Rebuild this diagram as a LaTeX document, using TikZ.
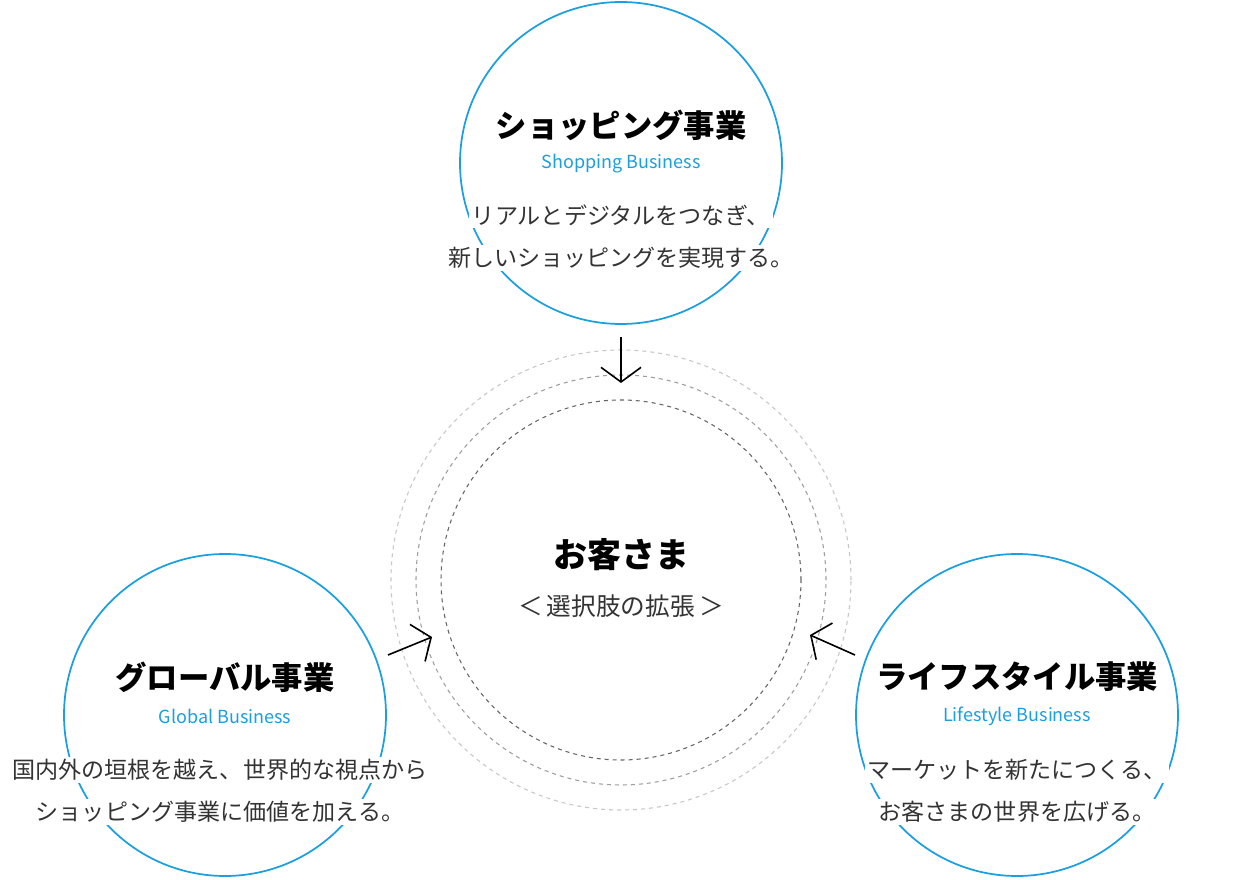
\documentclass[tikz,border=0pt]{standalone}
\usepackage{fontspec}
\setmainfont{Noto Sans CJK JP}
\usetikzlibrary{arrows.meta}
\definecolor{sky}{HTML}{1A9FE0}
\definecolor{txt}{HTML}{333333}
\begin{document}
\begin{tikzpicture}[x=0.75pt,y=-0.75pt,
  bizc/.style={draw=sky,line width=1.3pt},
  head/.style={font=\fontsize{23.5}{26}\selectfont\bfseries,text=black},
  eng/.style={font=\fontsize{13.5}{15}\selectfont,text=sky},
  body/.style={font=\fontsize{17.3}{20}\selectfont,text=txt,fill=white,inner sep=2pt},
  arr/.style={line width=1.2pt,-{Straight Barb[length=11pt,width=30pt,line width=1.2pt]}}]
\useasboundingbox (0,0) rectangle (1240,880);
\fill[white] (0,0) rectangle (1240,880);
% dashed circles
\node (d1) [circle,draw=black!22,dashed,line width=0.8pt,minimum size=460*0.75pt] at (621,580) {};
\node (d2) [circle,draw=black!38,dashed,line width=0.8pt,minimum size=410*0.75pt] at (621,580) {};
\node (d3) [circle,draw=black!60,dashed,line width=0.8pt,minimum size=360*0.75pt] at (621,580) {};
% business circles
\node (ct) [circle,bizc,minimum size=322*0.75pt] at (621,163) {};
\node (cl) [circle,bizc,minimum size=322*0.75pt] at (225,715) {};
\node (cr) [circle,bizc,minimum size=322*0.75pt] at (1017,715) {};
% top
\node (th) [head] at (621,125) {ショッピング事業};
\node (te) [eng] at (621,164) {Shopping Business};
\node (tb1) [body] at (621,215) {リアルとデジタルをつなぎ、};
\node (tb2) [body] at (621,258) {新しいショッピングを実現する。};
% left
\node (lh) [head] at (225,677) {グローバル事業};
\node (le) [eng] at (225,716) {Global Business};
\node (lb1) [body] at (220,770) {国内外の垣根を越え、世界的な視点から};
\node (lb2) [body] at (220,812) {ショッピング事業に価値を加える。};
% right
\node (rh) [head] at (1017,677) {ライフスタイル事業};
\node (re) [eng] at (1017,716) {Lifestyle Business};
\node (rb1) [body] at (1017,770) {マーケットを新たにつくる、};
\node (rb2) [body] at (1017,812) {お客さまの世界を広げる。};
% center
\node (ch) [font=\fontsize{25.5}{28}\selectfont\bfseries] at (621,555) {お客さま};
\node (cs) [font=\fontsize{18.5}{20}\selectfont,text=txt] at (621,606) {＜\,選択肢の拡張\,＞};
% arrows
\coordinate (a1s) at (621,337); \coordinate (a1e) at (621,383);
\coordinate (a2s) at (388,655); \coordinate (a2e) at (432,637);
\coordinate (a3s) at (855,655); \coordinate (a3e) at (810,635);
\draw[arr] (a1s) -- (a1e);
\draw[arr] (a2s) -- (a2e);
\draw[arr] (a3s) -- (a3e);
\end{tikzpicture}
\end{document}
